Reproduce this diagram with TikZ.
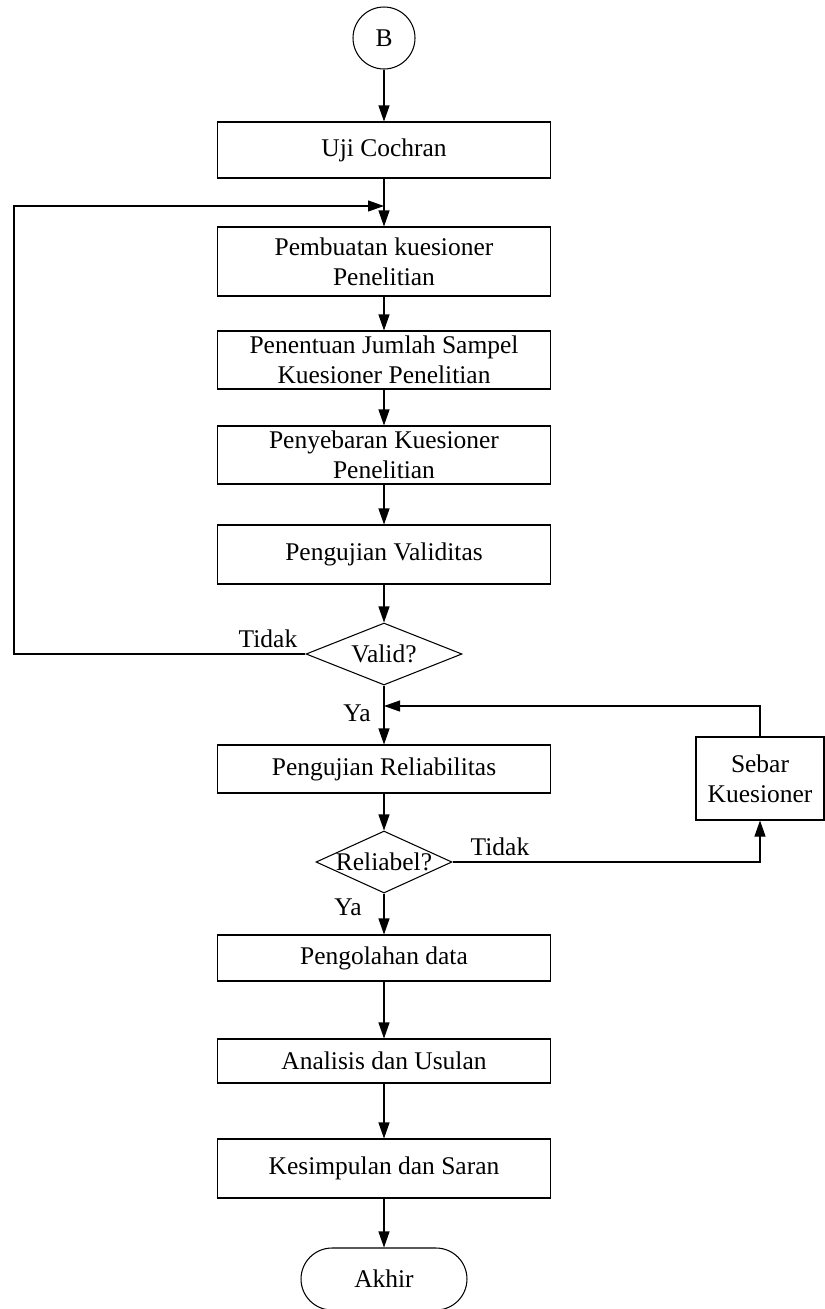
\documentclass[tikz,border=0pt]{standalone}
\usepackage{fontspec}
\setmainfont{Liberation Serif}
\usetikzlibrary{arrows.meta,shapes.geometric}
\tikzset{
  >={Triangle[length=3.2mm,width=2.2mm]},
  line/.style = {line width=0.6pt, draw, color = black},
  flow/.style = {line, ->},
  box/.style = {line, rectangle, inner sep=0pt, align=center,
                minimum width=6.68cm},
  decision/.style = {line, diamond, inner sep=0pt, align=center},
  connector/.style = {line, circle, inner sep=0pt, minimum size=1.24cm},
  terminal/.style = {line, rectangle, rounded corners=0.62cm,
                     minimum width=3.32cm, minimum height=1.24cm},
  answer/.style = {inner sep=0pt}
}

\begin{document}
\begin{tikzpicture}[x=0.02cm, y=-0.02cm, font=\fontsize{14.5}{17}\selectfont]
\useasboundingbox (0,0) rectangle (825,1309);
\node[connector] (B) at (384,38) {B};
\node[box, minimum height=1.12cm] (uji) at (384,150) {Uji Cochran};
\node[box, minimum height=1.38cm] (buat) at (384,261.5) {Pembuatan kuesioner\\Penelitian};
\node[box, minimum height=1.16cm] (sampel) at (384,360) {Penentuan Jumlah Sampel\\Kuesioner Penelitian};
\node[box, minimum height=1.16cm] (sebaran) at (384,455) {Penyebaran Kuesioner\\Penelitian};
\node[box, minimum height=1.18cm] (validitas) at (384,554.5) {Pengujian Validitas};
\node[decision, minimum width=3.12cm, minimum height=1.24cm] (valid) at (384,654) {\makebox[0pt]{Valid?}};
\node[box, minimum height=0.96cm] (reliab) at (384,769) {Pengujian Reliabilitas};
\node[line, rectangle, align=center, minimum width=2.56cm, minimum height=1.66cm] (sebar) at (760,778.5) {Sebar\\Kuesioner};
\node[decision, minimum width=2.72cm, minimum height=1.24cm] (reliabel) at (384,862) {\makebox[0pt]{Reliabel?}};
\node[box, minimum height=0.92cm] (olah) at (384,958) {Pengolahan data};
\node[box, minimum height=0.88cm] (analisis) at (384,1061) {Analisis dan Usulan};
\node[box, minimum height=1.18cm] (simpul) at (384,1168.5) {Kesimpulan dan Saran};
\node[terminal] (akhir) at (384,1279) {Akhir};

\node[answer] (tidak1) at (268,639) {Tidak};
\node[answer] (ya1) at (357,713) {Ya};
\node[answer] (tidak2) at (500,847) {Tidak};
\node[answer] (ya2) at (348,907) {Ya};

\coordinate (kiri) at (14,654);
\coordinate (balik1) at (384,206);
\coordinate (kanan) at (760,862);
\coordinate (balik2) at (384,706);

\path[flow] (B) edge (uji);
\path[flow] (uji) edge (buat);
\path[flow] (buat) edge (sampel);
\path[flow] (sampel) edge (sebaran);
\path[flow] (sebaran) edge (validitas);
\path[flow] (validitas) edge (valid);
\path[flow] (valid) edge (reliab);
\path[flow] (reliab) edge (reliabel);
\path[flow] (reliabel) edge (olah);
\path[flow] (olah) edge (analisis);
\path[flow] (analisis) edge (simpul);
\path[flow] (simpul) edge (akhir);
\draw[flow] (valid.west) -- (kiri) |- (balik1);
\draw[flow] (reliabel.east) -- (kanan) -- (sebar.south);
\draw[flow] (sebar.north) |- (balik2);
\end{tikzpicture}
\end{document}
